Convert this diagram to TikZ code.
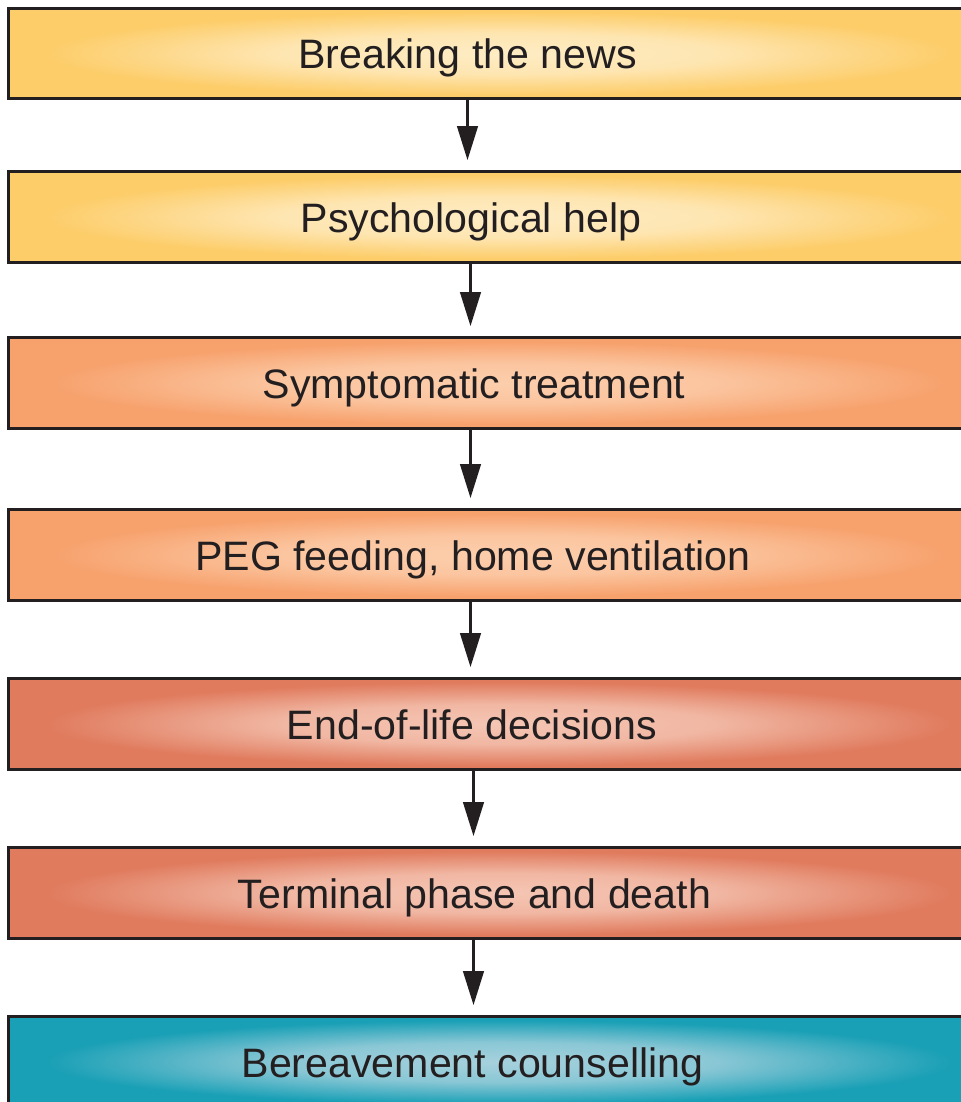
\documentclass[tikz,border=0pt]{standalone}
\usepackage{fontspec}
\setmainfont{Liberation Sans}
\usetikzlibrary{arrows.meta}

\definecolor{ink}{RGB}{35,31,32}
\definecolor{yellowout}{RGB}{253,205,106}
\definecolor{yellowin}{RGB}{254,236,196}
\definecolor{orangeout}{RGB}{247,161,108}
\definecolor{orangein}{RGB}{252,206,172}
\definecolor{redout}{RGB}{224,123,94}
\definecolor{redin}{RGB}{245,198,180}
\definecolor{tealout}{RGB}{26,160,182}
\definecolor{tealin}{RGB}{166,209,221}

% Glow in the middle of the boxes
\pgfdeclareradialshading{yellowglow}{\pgfpoint{0bp}{0bp}}{color(0bp)=(yellowin); color(11bp)=(yellowin!80!yellowout); color(23bp)=(yellowout); color(50bp)=(yellowout)}
\pgfdeclareradialshading{orangeglow}{\pgfpoint{0bp}{0bp}}{color(0bp)=(orangein); color(11bp)=(orangein!80!orangeout); color(23bp)=(orangeout); color(50bp)=(orangeout)}
\pgfdeclareradialshading{redglow}{\pgfpoint{0bp}{0bp}}{color(0bp)=(redin); color(11bp)=(redin!80!redout); color(23bp)=(redout); color(50bp)=(redout)}
\pgfdeclareradialshading{tealglow}{\pgfpoint{0bp}{0bp}}{color(0bp)=(tealin); color(11bp)=(tealin!80!tealout); color(23bp)=(tealout); color(50bp)=(tealout)}

\begin{document}
\begin{tikzpicture}[
    stage/.style={rectangle, draw=ink, line width=0.06cm, minimum width=19.63cm, minimum height=1.815cm, inner sep=0pt},
    yellowstage/.style={stage, shading=yellowglow},
    orangestage/.style={stage, shading=orangeglow},
    redstage/.style={stage, shading=redglow},
    tealstage/.style={stage, shading=tealglow},
    txt/.style={anchor=base, inner sep=0pt, text=ink, font=\fontsize{23.4pt}{28pt}\selectfont},
    flow/.style={draw=ink, line width=0.055cm, -{Triangle[length=0.68cm, width=0.41cm]}, shorten >=0.2cm}
]
\useasboundingbox (0,0) rectangle (19.22,-22.04);
\clip (0,0) rectangle (19.22,-22.04);

% Boxes
\node[yellowstage] (b1) at (9.984, -1.07) {};
\node[yellowstage] (b2) at (9.984, -4.34) {};
\node[orangestage] (b3) at (9.984, -7.66) {};
\node[orangestage] (b4) at (9.984, -11.10) {};
\node[redstage] (b5) at (9.984, -14.48) {};
\node[redstage] (b6) at (9.984, -17.86) {};
\node[tealstage] (b7) at (9.984, -21.24) {};

% Texts
\node[txt] (t1) at (9.35, -1.37) {Breaking the news};
\node[txt] (t2) at (9.42, -4.64) {Psychological help};
\node[txt] (t3) at (9.48, -7.96) {Symptomatic treatment};
\node[txt] (t4) at (9.46, -11.40) {PEG feeding, home ventilation};
\node[txt] (t5) at (9.44, -14.78) {End-of-life decisions};
\node[txt] (t6) at (9.49, -18.16) {Terminal phase and death};
\node[txt] (t7) at (9.45, -21.54) {Bereavement counselling};

% Arrow positions
\coordinate (a1) at (9.35, 0);
\coordinate (a2) at (9.41, 0);
\coordinate (a3) at (9.41, 0);
\coordinate (a4) at (9.41, 0);
\coordinate (a5) at (9.47, 0);
\coordinate (a6) at (9.47, 0);

% Arrows
\draw[flow] (b1.south -| a1) -- (b2.north -| a1);
\draw[flow] (b2.south -| a2) -- (b3.north -| a2);
\draw[flow] (b3.south -| a3) -- (b4.north -| a3);
\draw[flow] (b4.south -| a4) -- (b5.north -| a4);
\draw[flow] (b5.south -| a5) -- (b6.north -| a5);
\draw[flow] (b6.south -| a6) -- (b7.north -| a6);
\end{tikzpicture}
\end{document}
